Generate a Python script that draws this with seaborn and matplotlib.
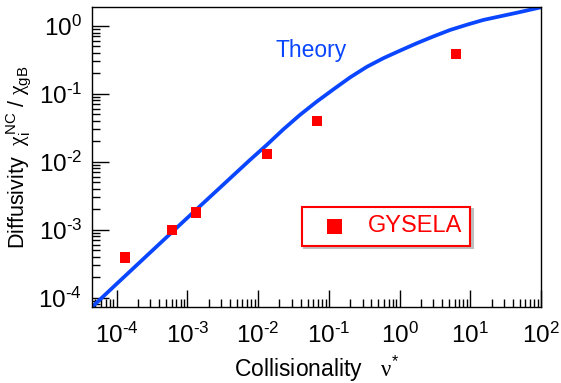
import numpy as np
import pandas as pd
import matplotlib
matplotlib.use("Agg")
import matplotlib.pyplot as plt
import seaborn as sns
from matplotlib.ticker import LogLocator, NullFormatter

# Theory curve
theory_nu = [4.48e-5, 1e-4, 1e-3, 7.7e-3, 1.33e-2, 2.27e-2, 3.9e-2, 6.75e-2, 0.118, 0.2, 0.344,
             0.59, 1.0, 1.75, 3.0, 5.2, 8.9, 15.3, 26.0, 45.0, 100.0]
theory_chi = [7.3e-5, 1.6e-4, 1.5e-3, 1.07e-2, 1.78e-2, 3.0e-2, 4.9e-2, 7.7e-2, 0.118, 0.175, 0.25,
              0.335, 0.43, 0.556, 0.70, 0.873, 1.04, 1.225, 1.38, 1.56, 1.88]

# GYSELA points
gysela_nu = [1.31e-4, 6.1e-4, 1.31e-3, 1.34e-2, 6.75e-2, 6.3]
gysela_chi = [3.9e-4, 1.0e-3, 1.8e-3, 1.31e-2, 3.97e-2, 0.384]

H = "\u2010"
xticks = [1e-4, 1e-3, 1e-2, 1e-1, 1e0, 1e1, 1e2]
xticklabels = [rf"$10^{{{H}4}}$", rf"$10^{{{H}3}}$", rf"$10^{{{H}2}}$", rf"$10^{{{H}1}}$",
               r"$10^{0}$", r"$10^{1}$", r"$10^{2}$"]
yticks = [1e-4, 1e-3, 1e-2, 1e-1, 1e0]
yticklabels = [rf"$10^{{{H}4}}$", rf"$10^{{{H}3}}$", rf"$10^{{{H}2}}$", rf"$10^{{{H}1}}$", r"$10^{0}$"]

sns.set_theme(style="white")
plt.rcParams["font.family"] = ["Liberation Sans", "DejaVu Sans"]
plt.rcParams["mathtext.fontset"] = "custom"
plt.rcParams["mathtext.rm"] = "Liberation Sans"
plt.rcParams["mathtext.it"] = "Liberation Serif"
plt.rcParams["mathtext.bf"] = "Liberation Sans:bold"
plt.rcParams["mathtext.default"] = "regular"

blue = "#0a46ff"
red = "#ff0000"

fig = plt.figure(figsize=(5.61, 3.83), dpi=100)
ax = fig.add_axes([92/561, 1-307/383, (541-92)/561, (307-7)/383])

df_t = pd.DataFrame({"nu": theory_nu, "chi": theory_chi})
df_g = pd.DataFrame({"nu": gysela_nu, "chi": gysela_chi})

sns.lineplot(data=df_t, x="nu", y="chi", ax=ax, color=blue, lw=2.7, legend=False, zorder=2)
sns.scatterplot(data=df_g, x="nu", y="chi", ax=ax, color=red, marker="s", s=55,
                edgecolor="none", label="GYSELA", zorder=3)

ax.set_xscale("log")
ax.set_yscale("log")
ax.set_xlim(4.48e-5, 100)
ax.set_ylim(7.3e-5, 1.9)

ax.set_xticks(xticks)
ax.set_xticklabels(xticklabels)
ax.set_yticks(yticks)
ax.set_yticklabels(yticklabels)
ax.xaxis.set_minor_locator(LogLocator(base=10, subs=np.arange(2, 10), numticks=20))
ax.yaxis.set_minor_locator(LogLocator(base=10, subs=np.arange(2, 10), numticks=20))
ax.xaxis.set_minor_formatter(NullFormatter())
ax.yaxis.set_minor_formatter(NullFormatter())

ax.tick_params(which="major", direction="in", length=12, width=1, color="black",
               labelsize=17.5, bottom=True, left=True, top=False, right=False, labelcolor="black")
ax.tick_params(axis="x", which="major", pad=11)
ax.tick_params(axis="y", which="major", pad=7)
ax.tick_params(which="minor", direction="in", length=6, width=1, color="black",
               bottom=True, left=True, top=False, right=False)

for sp in ax.spines.values():
    sp.set_color("black")
    sp.set_linewidth(1.0)

ax.set_xlabel(r"Collisionality   $\mathit{\nu}^{*}$", fontsize=16.5, labelpad=4.5, color="black")
ax.set_ylabel(r"Diffusivity  $\mathit{\chi}_{i}^{NC}$ / $\mathit{\chi}_{gB}$", fontsize=15.5,
              labelpad=4, color="black")

ax.text(276/561, 1-51/383, "Theory", transform=fig.transFigure, color=blue,
        fontsize=16.5, va="center", ha="left")

leg = ax.legend(loc="center", bbox_to_anchor=((386-92)/449, (307-226.5)/300),
                fontsize=17, markerscale=1.4, frameon=True, fancybox=False,
                shadow={"ox": 1.5, "oy": -1.5, "color": "0.75", "alpha": 1.0},
                handletextpad=0.36, borderpad=0.35, handlelength=2.1)
leg.get_frame().set_edgecolor(red)
leg.get_frame().set_linewidth(1.5)
for t in leg.get_texts():
    t.set_color(red)

fig.savefig("out.png", dpi=100)
